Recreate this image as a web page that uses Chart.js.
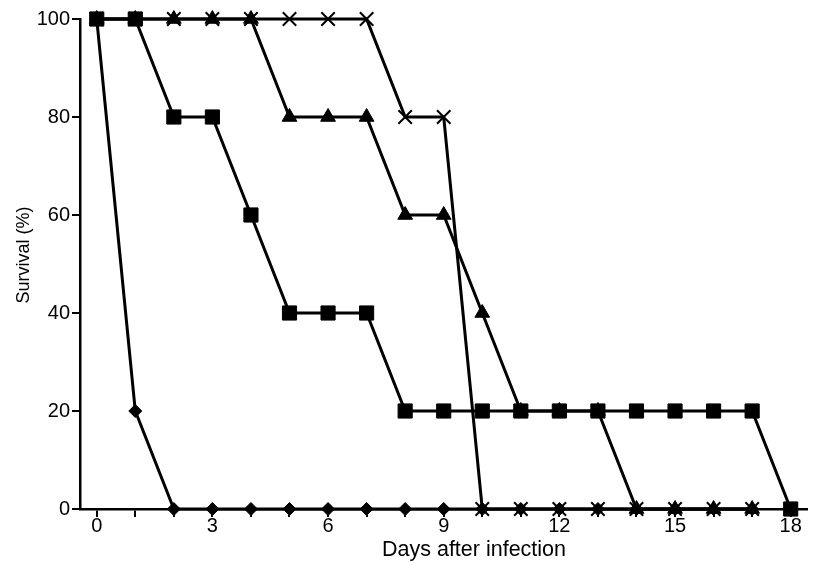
<!DOCTYPE html>
<html lang="en">
<head>
    <meta charset="UTF-8">
    <title>Survival after infection</title>
    <script src="https://cdn.jsdelivr.net/npm/chart.js"></script>
    <style>
        html, body { margin: 0; padding: 0; background: #fff; }
        #wrap { width: 818px; height: 562px; }
    </style>
</head>
<body>
    <div id="wrap"><canvas id="survivalChart"></canvas></div>

    <script>
        // Data (days after infection vs. survival %)
        const days = [0, 1, 2, 3, 4, 5, 6, 7, 8, 9, 10, 11, 12, 13, 14, 15, 16, 17, 18];
        const diamondSeries  = [100, 20, 0, 0, 0, 0, 0, 0, 0, 0, 0, 0, 0, 0, 0, 0, 0, 0];
        const squareSeries   = [100, 100, 80, 80, 60, 40, 40, 40, 20, 20, 20, 20, 20, 20, 20, 20, 20, 20, 0];
        const triangleSeries = [100, 100, 100, 100, 100, 80, 80, 80, 60, 60, 40, 20, 20, 20, 0, 0, 0, 0];
        const crossSeries    = [100, 100, 100, 100, 100, 100, 100, 100, 80, 80, 0, 0, 0, 0, 0, 0, 0, 0];
        const xTickLabels = [0, 3, 6, 9, 12, 15, 18];
        const yTickLabels = [0, 20, 40, 60, 80, 100];

        const toPoints = arr => arr.map((v, i) => ({ x: days[i], y: v }));

        function series(values, style, radius, order, markerWidth) {
            return {
                data: toPoints(values),
                borderColor: '#000',
                backgroundColor: '#000',
                borderWidth: 3,
                pointStyle: style,
                pointRadius: radius,
                pointHoverRadius: radius,
                pointBorderWidth: markerWidth,
                pointBackgroundColor: '#000',
                pointBorderColor: '#000',
                order: order,
                clip: false,
                tension: 0
            };
        }

        // axis titles drawn by hand so they sit where the original puts them
        const axisTitles = {
            id: 'axisTitles',
            afterDraw(chart) {
                const ctx = chart.ctx;
                ctx.save();
                ctx.fillStyle = '#000';
                ctx.textAlign = 'center';
                ctx.textBaseline = 'middle';
                ctx.font = '21.5px "Liberation Sans", Arial, sans-serif';
                ctx.fillText('Days after infection', 474, 550);
                ctx.translate(24, 255);
                ctx.rotate(-Math.PI / 2);
                ctx.font = '18px "Liberation Sans", Arial, sans-serif';
                ctx.fillText('Survival (%)', 0, 0);
                ctx.restore();
            }
        };

        const ctx = document.getElementById('survivalChart').getContext('2d');
        new Chart(ctx, {
            type: 'line',
            data: {
                datasets: [
                    series(squareSeries, 'rect', 10, 0, 1),
                    series(crossSeries, 'crossRot', 9.5, 1, 2),
                    series(triangleSeries, 'triangle', 8.5, 2, 1),
                    series(diamondSeries, 'rectRot', 6.5, 3, 1)
                ]
            },
            options: {
                responsive: true,
                maintainAspectRatio: false,
                animation: false,
                layout: { padding: { top: 19, left: 0, right: 0, bottom: 0 } },
                plugins: {
                    legend: { display: false },
                    tooltip: { enabled: false }
                },
                scales: {
                    x: {
                        type: 'linear',
                        min: -0.434,
                        max: 18.41,
                        afterBuildTicks: scale => {
                            scale.ticks = days.map(d => ({ value: d }));
                        },
                        afterFit: scale => { scale.height = 53; },
                        ticks: {
                            color: '#000',
                            padding: -3,
                            maxRotation: 0,
                            autoSkip: false,
                            font: { family: '"Liberation Sans", Arial, sans-serif', size: 20 },
                            callback: v => xTickLabels.includes(v) ? String(v) : ''
                        },
                        grid: {
                            drawOnChartArea: false,
                            drawTicks: true,
                            tickLength: 8,
                            color: '#000',
                            lineWidth: 2
                        },
                        border: { display: true, color: '#000', width: 2.5 }
                    },
                    y: {
                        min: 0,
                        max: 100,
                        afterBuildTicks: scale => {
                            scale.ticks = yTickLabels.map(v => ({ value: v }));
                        },
                        afterFit: scale => { scale.width = 80; },
                        ticks: {
                            color: '#000',
                            padding: 2,
                            font: { family: '"Liberation Sans", Arial, sans-serif', size: 20 }
                        },
                        grid: {
                            drawOnChartArea: false,
                            drawTicks: true,
                            tickLength: 8,
                            color: '#000',
                            lineWidth: 2
                        },
                        border: { display: true, color: '#000', width: 2.5 }
                    }
                }
            },
            plugins: [axisTitles]
        });
    </script>
</body>
</html>
